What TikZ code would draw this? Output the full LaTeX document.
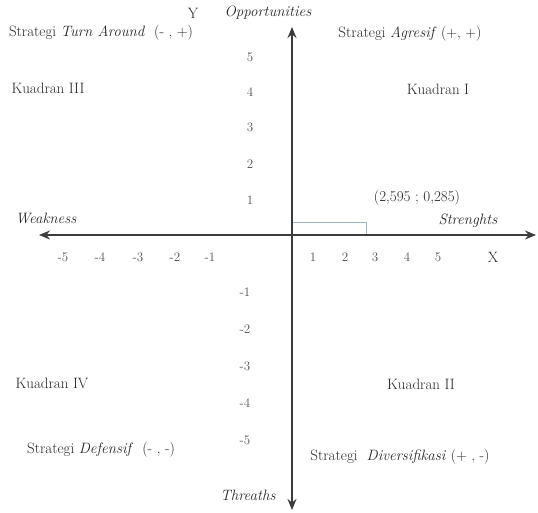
\documentclass[tikz,border=0pt]{standalone}
\usetikzlibrary{arrows.meta}
\definecolor{sumbu}{HTML}{3C3C3C}
\definecolor{angka}{HTML}{505050}
\definecolor{kotak}{HTML}{9DB4CF}

\begin{document}
\begin{tikzpicture}[x=1pt,y=1pt,
    sumbu/.style={draw=sumbu,line width=2.4pt,
      {Stealth[length=11pt,width=9pt]}-{Stealth[length=11pt,width=9pt]}},
    angka/.style={text=angka,font=\fontsize{13}{15}\selectfont,inner sep=0pt},
    teks/.style={text=black!85,font=\fontsize{15}{17}\selectfont,inner sep=0pt}]
    \useasboundingbox (-292,-277) rectangle (246,235);

    % Ujung sumbu
    \coordinate (O) at (0,0);
    \coordinate (wk) at (-253,0);
    \coordinate (st) at (244,0);
    \coordinate (op) at (0,208);
    \coordinate (th) at (0,-275);
    \coordinate (P) at (74,13);

    % Titik posisi
    \draw[kotak,line width=0.8pt] (O) rectangle (P);

    % Sumbu koordinat
    \draw[sumbu] (wk) -- (st);
    \draw[sumbu] (th) -- (op);

    % Angka sumbu X
    \foreach \n/\x in {1/21, 2/53, 3/83, 4/115, 5/146} {
      \node[angka] (xp\n) at (\x,-22) {\n};
    }
    \foreach \n/\x in {1/-82, 2/-117, 3/-154, 4/-192, 5/-229} {
      \node[angka] (xn\n) at (\x,-22) {-\n};
    }

    % Angka sumbu Y
    \foreach \n/\y in {1/35, 2/71, 3/108, 4/143, 5/178} {
      \node[angka] (yp\n) at (-42,\y) {\n};
    }
    \foreach \n/\y in {1/-57, 2/-94, 3/-131, 4/-168, 5/-205} {
      \node[angka] (yn\n) at (-47,\y) {-\n};
    }

    % Nama sumbu
    \node[teks] (lx) at (201,-22) {X};
    \node[teks] (ly) at (-99,222) {Y};
    \node[teks] (lop) at (-24,222) {\textit{Opportunities}};
    \node[teks] (lth) at (-44,-260) {\textit{Threaths}};
    \node[teks] (lwk) at (-246,17) {\textit{Weakness}};
    \node[teks] (lst) at (176,14) {\textit{Strenghts}};
    \node[teks] (lP) at (125,37) {(2,595 ; 0,285)};

    % Kuadran
    \node[teks] (k1) at (146,146) {Kuadran I};
    \node[teks] (k2) at (129,-149) {Kuadran II};
    \node[teks] (k3) at (-244,147) {Kuadran III};
    \node[teks] (k4) at (-240,-148) {Kuadran IV};

    % Strategi
    \node[teks] (s1) at (118,201) {Strategi \textit{Agresif} (+, +)};
    \node[teks] (s2) at (108,-222) {Strategi \ \textit{Diversifikasi} (+ , -)};
    \node[teks] (s3) at (-191,202) {Strategi \textit{Turn Around}\ \ (- , +)};
    \node[teks] (s4) at (-191,-215) {Strategi \textit{Defensif}\ \ (- , -)};

  \end{tikzpicture}
\end{document}
